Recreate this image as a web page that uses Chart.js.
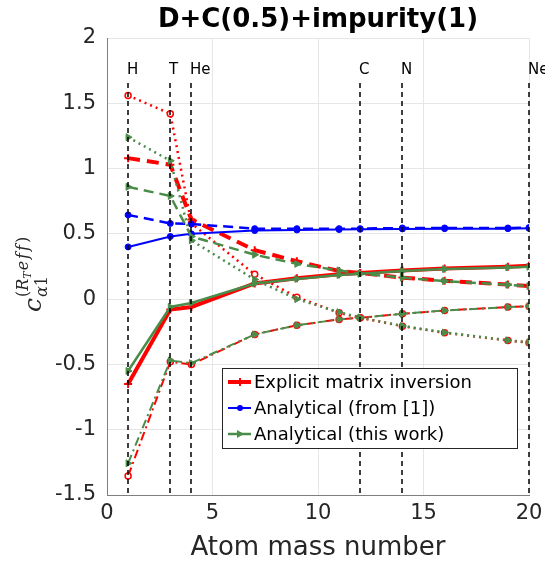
<!DOCTYPE html>
<html>
<head>
<meta charset="utf-8">
<script src="https://cdn.jsdelivr.net/npm/chart.js@4.4.0/dist/chart.umd.min.js"></script>
<style>
  body { margin: 0; background: #fff; }
  canvas { display: block; }
</style>
</head>
<body>
<canvas id="chart" width="545" height="563"></canvas>
<script>
// atom mass numbers where the coefficients were computed
const massNumbers = [1, 3, 4, 7, 9, 11, 12, 14, 16, 19, 20];

// explicit matrix inversion (red)
const explicitSolid   = [-0.65, -0.08, -0.06, 0.12, 0.16, 0.19, 0.20, 0.22, 0.235, 0.248, 0.255];
const explicitDashed  = [1.08, 1.03, 0.61, 0.375, 0.29, 0.215, 0.20, 0.165, 0.14, 0.112, 0.10];
const explicitDotted  = [1.56, 1.42, 0.58, 0.19, 0.015, -0.105, -0.143, -0.207, -0.258, -0.316, -0.334];
const explicitDashDot = [-1.355, -0.48, -0.50, -0.27, -0.20, -0.155, -0.143, -0.112, -0.087, -0.061, -0.054];

// analytical from [1] (blue)
const refSolid  = [0.40, 0.48, 0.50, 0.525, 0.53, 0.533, 0.535, 0.538, 0.54, 0.54, 0.542];
const refDashed = [0.645, 0.58, 0.575, 0.54, 0.54, 0.54, 0.54, 0.545, 0.545, 0.545, 0.548];

// analytical this work (green)
const workSolid   = [-0.55, -0.06, -0.03, 0.12, 0.155, 0.185, 0.195, 0.215, 0.23, 0.243, 0.248];
const workDashed  = [0.86, 0.79, 0.48, 0.34, 0.27, 0.22, 0.195, 0.165, 0.138, 0.11, 0.10];
const workDotted  = [1.24, 1.06, 0.45, 0.15, 0.0, -0.10, -0.14, -0.205, -0.255, -0.315, -0.33];
const workDashDot = [-1.257, -0.47, -0.49, -0.27, -0.20, -0.155, -0.143, -0.112, -0.087, -0.061, -0.054];

// marked elements
const elementNames  = ['H', 'T', 'He', 'C', 'N', 'Ne'];
const elementMasses = [1, 3, 4, 12, 14, 20];

const legendLabels = ['Explicit matrix inversion', 'Analytical (from [1])', 'Analytical (this work)'];

const RED = '#ff0000', BLUE = '#0000ff', GREEN = '#4a8c4a';
const DASH = [10, 6], DOT = [2, 4], DASHDOT = [9, 4, 2, 4];

function series(label, values, color, width, dash, marker, order) {
  return {
    label: label,
    data: massNumbers.map((m, i) => ({ x: m, y: values[i] })),
    borderColor: color,
    borderWidth: width,
    borderDash: dash,
    pointStyle: marker.style,
    pointRadius: marker.r,
    pointRotation: marker.rot || 0,
    pointBorderWidth: marker.bw || 1.5,
    pointBorderColor: color,
    pointBackgroundColor: marker.fill || color,
    tension: 0,
    fill: false,
    order: order
  };
}

const cross = { style: 'cross', r: 4, bw: 2 };
const openCircle = { style: 'circle', r: 3, bw: 1.5, fill: '#fff' };
const dot = { style: 'circle', r: 3, bw: 1 };
const tri = { style: 'triangle', r: 4, rot: 90, bw: 1 };

const datasets = [
  series('explicit solid', explicitSolid, RED, 4, [], cross, 3),
  series('explicit dashed', explicitDashed, RED, 4, [12, 7], cross, 3),
  series('explicit dotted', explicitDotted, RED, 2.5, DOT, openCircle, 3),
  series('explicit dash-dot', explicitDashDot, RED, 2, DASHDOT, openCircle, 3),
  series('ref solid', refSolid, BLUE, 2, [], dot, 2),
  series('ref dashed', refDashed, BLUE, 2.5, DASH, dot, 2),
  series('work solid', workSolid, GREEN, 2.5, [], tri, 1),
  series('work dashed', workDashed, GREEN, 2.5, DASH, tri, 1),
  series('work dotted', workDotted, GREEN, 2.5, DOT, tri, 1),
  series('work dash-dot', workDashDot, GREEN, 2, DASHDOT, tri, 1)
];

// element lines, title, axis labels and legend
const decorations = {
  id: 'decorations',
  afterDatasetsDraw(chart) {
    const ctx = chart.ctx;
    const xs = chart.scales.x, area = chart.chartArea;

    ctx.save();
    ctx.strokeStyle = '#000';
    ctx.lineWidth = 1.5;
    ctx.setLineDash([5, 4]);
    ctx.font = '15px "DejaVu Sans"';
    ctx.fillStyle = '#000';
    ctx.textBaseline = 'middle';
    elementMasses.forEach((m, i) => {
      const px = Math.round(xs.getPixelForValue(m));
      ctx.beginPath();
      ctx.moveTo(px, 83);
      ctx.lineTo(px, area.bottom);
      ctx.stroke();
      ctx.fillText(elementNames[i], px - 1, 70);
    });
    ctx.restore();

    // legend box
    ctx.save();
    const lx = 222, ly = 368, lw = 295, lh = 80;
    ctx.fillStyle = '#fff';
    ctx.fillRect(lx, ly, lw, lh);
    ctx.strokeStyle = '#262626';
    ctx.lineWidth = 1;
    ctx.strokeRect(lx + 0.5, ly + 0.5, lw, lh);
    const cols = [RED, BLUE, GREEN];
    const widths = [4, 2, 2.5];
    ctx.font = '18px "DejaVu Sans"';
    ctx.textBaseline = 'middle';
    legendLabels.forEach((t, i) => {
      const y = ly + 14 + i * 26;
      ctx.strokeStyle = cols[i];
      ctx.lineWidth = widths[i];
      ctx.beginPath();
      ctx.moveTo(228, y);
      ctx.lineTo(251, y);
      ctx.stroke();
      ctx.fillStyle = cols[i];
      if (i === 0) {
        ctx.lineWidth = 2;
        ctx.beginPath(); ctx.moveTo(240, y - 4); ctx.lineTo(240, y + 4); ctx.stroke();
      } else if (i === 1) {
        ctx.beginPath(); ctx.arc(240, y, 3, 0, Math.PI * 2); ctx.fill();
      } else {
        ctx.beginPath(); ctx.moveTo(244, y); ctx.lineTo(237, y - 4); ctx.lineTo(237, y + 4); ctx.closePath(); ctx.fill();
      }
      ctx.fillStyle = '#000';
      ctx.fillText(t, 254, y + 1);
    });
    ctx.restore();
  },
  afterDraw(chart) {
    const ctx = chart.ctx, area = chart.chartArea;
    ctx.save();
    ctx.fillStyle = '#000';
    ctx.textAlign = 'center';
    ctx.textBaseline = 'alphabetic';
    ctx.font = 'bold 26px "DejaVu Sans"';
    ctx.fillText('D+C(0.5)+impurity(1)', (area.left + area.right) / 2, 27);

    ctx.fillStyle = '#262626';
    ctx.font = '26px "DejaVu Sans"';
    ctx.fillText('Atom mass number', (area.left + area.right) / 2, 555);

    // y label: c_{alpha1}^{(R_T eff)}
    ctx.translate(41, 312);
    ctx.rotate(-Math.PI / 2);
    ctx.textAlign = 'left';
    ctx.font = 'italic 25px "DejaVu Serif"';
    ctx.fillText('c', 0, 0);
    let x = ctx.measureText('c').width + 1;
    ctx.font = 'italic 16px "DejaVu Serif"';
    ctx.fillText('α', x, 6);
    let sx = x + ctx.measureText('α').width;
    ctx.font = '16px "DejaVu Serif"';
    ctx.fillText('1', sx, 6);
    ctx.fillText('(', x, -13);
    x += ctx.measureText('(').width;
    ctx.font = 'italic 16px "DejaVu Serif"';
    ctx.fillText('R', x, -13);
    x += ctx.measureText('R').width;
    ctx.font = 'italic 11px "DejaVu Serif"';
    ctx.fillText('T', x, -10);
    x += ctx.measureText('T').width + 1;
    ctx.font = 'italic 16px "DejaVu Serif"';
    ['e', 'f', 'f'].forEach(ch => {
      ctx.fillText(ch, x, -13);
      x += ctx.measureText(ch).width + 2;
    });
    ctx.font = '16px "DejaVu Serif"';
    ctx.fillText(')', x, -13);
    ctx.restore();
  }
};

new Chart(document.getElementById('chart'), {
  type: 'line',
  data: { datasets: datasets },
  options: {
    responsive: false,
    animation: false,
    layout: { padding: { top: 38, right: 16, left: 0, bottom: 0 } },
    plugins: { legend: { display: false }, title: { display: false }, tooltip: { enabled: false } },
    scales: {
      x: {
        type: 'linear', min: 0, max: 20,
        afterFit: s => { s.height = 68; s.paddingLeft = 0; s.paddingRight = 0; },
        ticks: { stepSize: 5, color: '#262626', font: { family: 'DejaVu Sans', size: 21 }, padding: 6, maxRotation: 0 },
        grid: { color: '#e6e6e6', drawTicks: false },
        border: { color: '#7f7f7f', width: 1 }
      },
      y: {
        min: -1.5, max: 2,
        afterFit: s => { s.width = 107; },
        ticks: { stepSize: 0.5, color: '#262626', font: { family: 'DejaVu Sans', size: 21 }, padding: 11,
                 callback: v => String(v) },
        grid: { color: '#e6e6e6', drawTicks: false },
        border: { color: '#7f7f7f', width: 1 }
      }
    }
  },
  plugins: [decorations]
});
</script>
</body>
</html>
